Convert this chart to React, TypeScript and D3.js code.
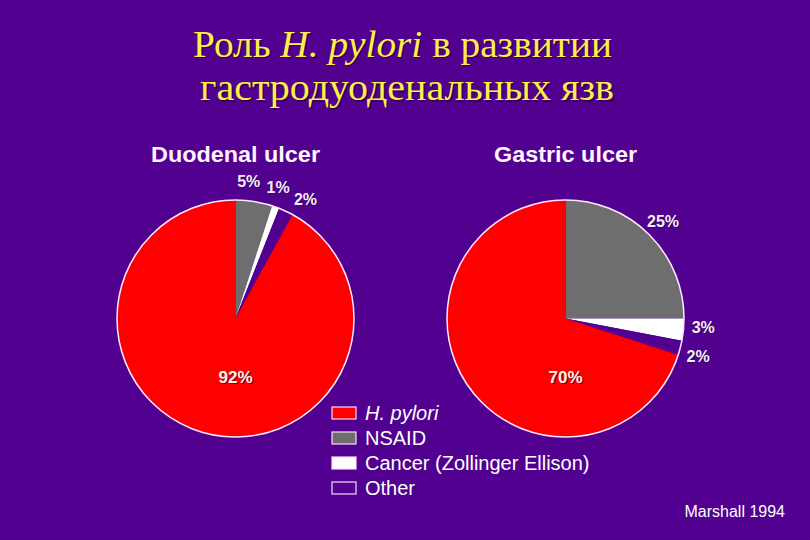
import React from "react";
import * as d3 from "d3";

const W = 810;
const H = 540;

const categories = ["NSAID", "Cancer (Zollinger Ellison)", "Other", "H. pylori"];
const duodenalValues = [5, 1, 2, 92];
const gastricValues = [25, 3, 2, 70];
const chartTitles = ["Duodenal ulcer", "Gastric ulcer"];
const legendOrder = ["H. pylori", "NSAID", "Cancer (Zollinger Ellison)", "Other"];

const BG = "#510090";
const colorScale = d3
  .scaleOrdinal<string, string>()
  .domain(categories)
  .range(["#6e6e6e", "#ffffff", BG, "#ff0000"]);

const R = 118.5;
const LABEL_R = 138;
const MIN_SEP = (12.5 * Math.PI) / 180;

type Lab = { text: string; angle: number; r: number; big: boolean };

function computeLabels(values: number[]): Lab[] {
  const pie = d3.pie<number>().sort(null).value((d) => d);
  const arcs = pie(values);
  const small: Lab[] = [];
  const out: Lab[] = [];
  arcs.forEach((a) => {
    const text = `${a.data}%`;
    if (a.data >= 50) {
      out.push({ text, angle: Math.PI, r: R * 0.49, big: true });
    } else {
      small.push({ text, angle: (a.startAngle + a.endAngle) / 2, r: LABEL_R, big: false });
    }
  });
  for (let it = 0; it < 50; it++) {
    for (let i = 1; i < small.length; i++) {
      const d = small[i].angle - small[i - 1].angle;
      if (d < MIN_SEP) {
        const push = (MIN_SEP - d) / 2;
        small[i].angle += push;
        small[i - 1].angle -= push;
      }
    }
  }
  return out.concat(small);
}

function Pie({ cx, cy, values, title, titleLen }: { cx: number; cy: number; values: number[]; title: string; titleLen: number }) {
  const pie = d3.pie<number>().sort(null).value((d) => d);
  const arcs = pie(values);
  const arcGen = d3.arc<d3.PieArcDatum<number>>().innerRadius(0).outerRadius(R);
  const labels = computeLabels(values);
  return (
    <g>
      <text
        x={cx}
        y={cy - 156.5}
        textAnchor="middle"
        fontFamily="Liberation Sans, Arial, sans-serif"
        fontWeight="bold"
        fontSize={22.5}
        fill="#fff4ff"
        textLength={titleLen}
        lengthAdjust="spacingAndGlyphs"
      >
        {title}
      </text>
      <g transform={`translate(${cx},${cy})`}>
        {arcs.map((a, i) => (
          <path key={i} d={arcGen(a) || ""} fill={colorScale(categories[i])} stroke="none" />
        ))}
        <circle r={R} fill="none" stroke="#ffe8ff" strokeWidth={1.5} />
        {labels.map((l, i) => {
          const x = Math.sin(l.angle) * l.r;
          const y = -Math.cos(l.angle) * l.r;
          return (
            <g key={i}>
              <text
                x={x + 1}
                y={y + 1}
                dy="0.35em"
                textAnchor="middle"
                fontFamily="Liberation Sans, Arial, sans-serif"
                fontWeight="bold"
                fontSize={l.big ? 17 : 16}
                fill="#2a0040"
                opacity={0.6}
              >
                {l.text}
              </text>
              <text
                x={x}
                y={y}
                dy="0.35em"
                textAnchor="middle"
                fontFamily="Liberation Sans, Arial, sans-serif"
                fontWeight="bold"
                fontSize={l.big ? 17 : 16}
                fill={l.big ? "#fff4e0" : "#f6eefc"}
              >
                {l.text}
              </text>
            </g>
          );
        })}
      </g>
    </g>
  );
}

export default function App() {
  const legendY = d3.scalePoint<string>().domain(legendOrder).range([413, 488]);
  const titleProps = { lengthAdjust: "spacingAndGlyphs" as const };
  return (
    <svg width={W} height={H} style={{ position: "absolute", left: 0, top: 0 }}>
      <rect width={W} height={H} fill={BG} />
      <g fontFamily="Liberation Serif, Times New Roman, serif" fontSize={37} textAnchor="middle">
        <text x={402.5} y={56.5} fill="#2a0040" opacity={0.7} transform="translate(1.5,1.5)" textLength={419} {...titleProps}>
          Роль <tspan fontStyle="italic">H. pylori</tspan> в развитии
        </text>
        <text x={402.5} y={56.5} fill="#ffee4a" textLength={419} {...titleProps}>
          Роль <tspan fontStyle="italic">H. pylori</tspan> в развитии
        </text>
        <text x={407} y={100} fill="#2a0040" opacity={0.7} transform="translate(1.5,1.5)" textLength={414} {...titleProps}>
          гастродуоденальных язв
        </text>
        <text x={407} y={100} fill="#ffee4a" textLength={414} {...titleProps}>
          гастродуоденальных язв
        </text>
      </g>
      <Pie cx={235.5} cy={318.5} values={duodenalValues} title={chartTitles[0]} titleLen={169} />
      <Pie cx={565.5} cy={318.5} values={gastricValues} title={chartTitles[1]} titleLen={143} />
      <g>
        {legendOrder.map((c) => {
          const y = legendY(c) as number;
          return (
            <g key={c}>
              <rect x={332} y={y - 6} width={24} height={12} fill={colorScale(c)} stroke="#ffd8ff" strokeWidth={1.2} />
              <text
                x={365}
                y={y}
                dy="0.36em"
                fontFamily="Liberation Sans, Arial, sans-serif"
                fontSize={20}
                fontStyle={c === "H. pylori" ? "italic" : "normal"}
                fill="#ffffff"
              >
                {c}
              </text>
            </g>
          );
        })}
      </g>
      <text x={785} y={517} textAnchor="end" fontFamily="Liberation Sans, Arial, sans-serif" fontSize={16} fill="#ffffff">
        Marshall 1994
      </text>
    </svg>
  );
}
